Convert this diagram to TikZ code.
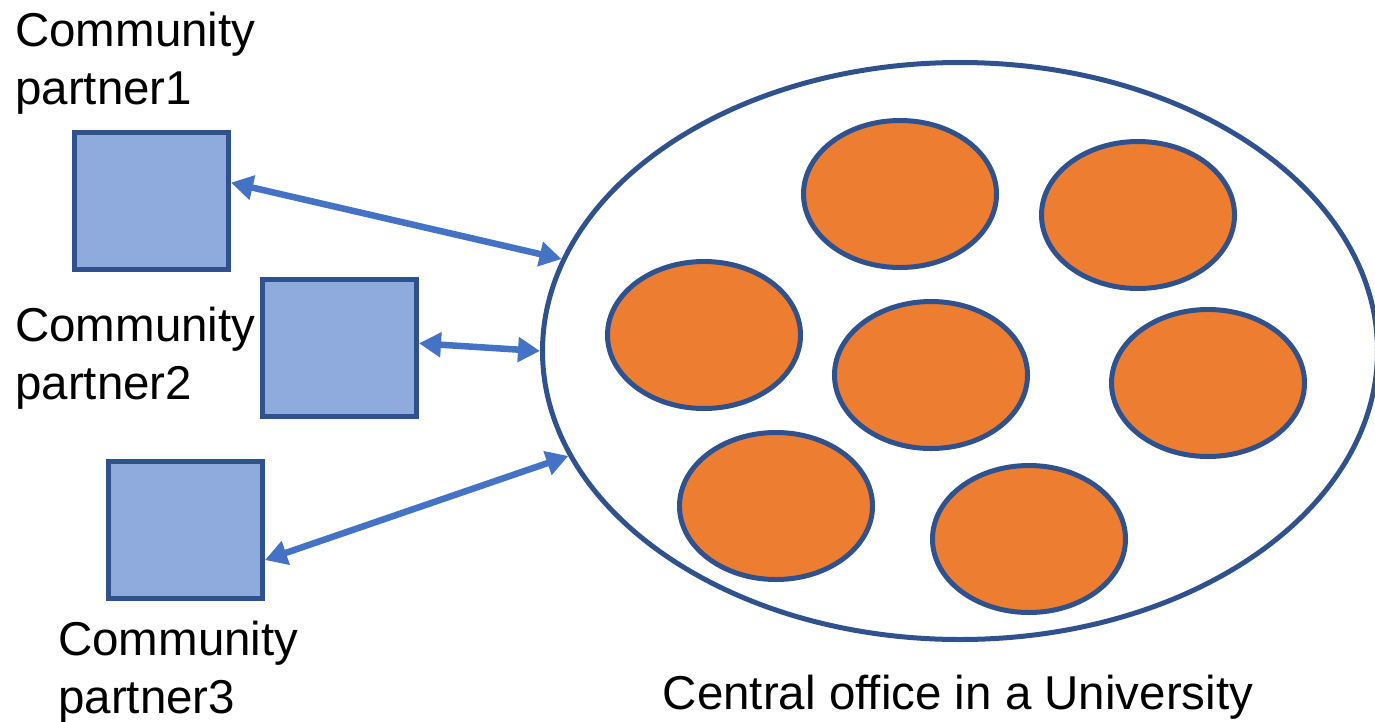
\documentclass[tikz,border=0pt]{standalone}
\usepackage{fontspec}
\setmainfont{Liberation Sans}
\usetikzlibrary{arrows.meta}
\usetikzlibrary{shapes.geometric}
\usetikzlibrary{positioning}
\definecolor{mdark}{HTML}{2F528F}
\definecolor{mlight}{HTML}{8FAADC}
\definecolor{morange}{HTML}{ED7D31}
\definecolor{mblue}{HTML}{4472C4}
\tikzset{partner/.style = {draw=mdark, fill=mlight, line width=5pt,
                           minimum width=154pt, minimum height=137pt, inner sep=0}}
\tikzset{team/.style = {ellipse, draw=mdark, fill=morange, line width=5pt,
                        minimum width=193pt, minimum height=147pt, inner sep=0}}
\tikzset{campus/.style = {ellipse, draw=mdark, fill=white, line width=5pt,
                          minimum width=835pt, minimum height=577pt, inner sep=0}}
\tikzset{link/.style = {mblue, line width=6.5pt,
                        {Triangle[length=22pt, width=24pt]}-{Triangle[length=22pt, width=24pt]}}}
\tikzset{lbl/.style = {align=left, inner sep=0, font=\fontsize{47.5}{58}\selectfont}}

\begin{document}
\begin{tikzpicture}[x=1pt, y=-1pt]
      \useasboundingbox (0, 0) rectangle (1375, 721);
      \node [campus] (office) at (960, 351) {};
      \foreach \x/\y [count=\i] in {900/194, 1138/215, 704/335, 931/375,
                                    1208/383, 776/506, 1029/539} {
        \node [team] (team\i) at (\x, \y) {};
      }
      \node [partner] (partner1) at (151.5, 201) {};
      \node [partner] (partner2) at (339.5, 347.5) {};
      \node [partner] (partner3) at (185.5, 529.5) {};
      \node [lbl, anchor=north west] (name1) at (15, 12) {Community\\partner1};
      \node [lbl, anchor=north west] (name2) at (15, 307) {Community\\partner2};
      \node [lbl, anchor=north west] (name3) at (58, 621) {Community\\partner3};
      \node [lbl, anchor=north] (officename) at (958, 675) {Central office in a University};
      \draw [link] (partner1.13) -- (office.167);
      \draw [link] (partner2.3) -- (office.west);
      \draw [link] (partner3.-21) -- (office.195);
    \end{tikzpicture}
\end{document}
